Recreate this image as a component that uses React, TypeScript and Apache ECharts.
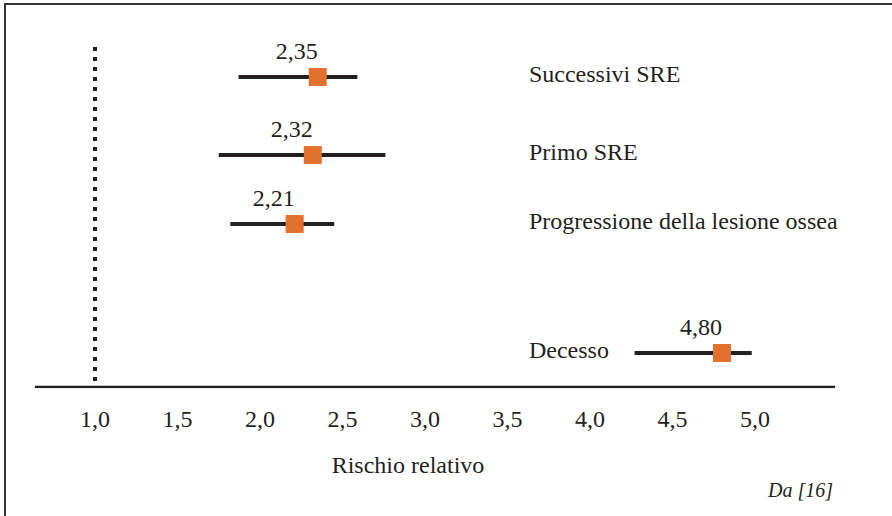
import React, { useEffect, useRef } from "react";
import * as echarts from "echarts";

// ---- data ----
const categories = ["Successivi SRE", "Primo SRE", "Progressione della lesione ossea", "Decesso"];
const estimates = [2.35, 2.32, 2.21, 4.8];
const lowerCI = [1.87, 1.75, 1.82, 4.27];
const upperCI = [2.59, 2.76, 2.45, 4.98];
const tickValues = [1.0, 1.5, 2.0, 2.5, 3.0, 3.5, 4.0, 4.5, 5.0];
const referenceValue = 1.0;
const axisTitle = "Rischio relativo";
const sourceNote = "Da [16]";

// ---- layout (not data) ----
const ROW_Y = [310, 232, 163, 34];
const LABEL_X = 3.63;
const AXIS_FROM = 0.636;
const AXIS_TO = 5.485;
const DOT_TOP = 340;

const FONT = "'Liberation Serif', 'Times New Roman', serif";
const INK = "#231F20";
const ORANGE = "#E2712F";
const FS = 24;

const fmt = (v: number) => v.toFixed(1).replace(".", ",");

export default function App() {
  const ref = useRef<HTMLDivElement>(null);
  useEffect(() => {
    document.body.style.margin = "0";
    if (!ref.current) return;
    const chart = echarts.init(ref.current, null, { renderer: "svg" });
    const ciData = categories.map((_, i) => [lowerCI[i], upperCI[i], ROW_Y[i]]);
    chart.setOption({
      animation: false,
      textStyle: { fontFamily: FONT, color: INK },
      grid: { left: 12.5, right: 54.5, top: 37, bottom: 129 },
      xAxis: {
        type: "value",
        min: 0.5,
        max: 5.5,
        interval: 0.5,
        axisLine: { show: false },
        axisTick: { show: false },
        splitLine: { show: false },
        axisLabel: {
          margin: 20,
          fontSize: FS,
          fontFamily: FONT,
          color: INK,
          formatter: (v: number) => (tickValues.some((t) => Math.abs(t - v) < 1e-6) ? fmt(v) : ""),
        },
        name: axisTitle,
        nameLocation: "middle",
        nameGap: 66,
        nameTextStyle: { fontSize: FS, fontFamily: FONT, color: INK, padding: [0, 34, 0, 0] },
      },
      yAxis: { type: "value", min: 0, max: 350, show: false },
      series: [
        {
          type: "line",
          data: [[AXIS_FROM, 0], [AXIS_TO, 0]],
          symbol: "none",
          lineStyle: { color: INK, width: 2.5 },
          silent: true,
        },
        {
          type: "line",
          data: [[referenceValue, DOT_TOP], [referenceValue, 2]],
          symbol: "none",
          lineStyle: { color: INK, width: 4, type: [4, 6] },
          silent: true,
        },
        {
          type: "custom",
          data: ciData,
          renderItem: (params: any, api: any) => {
            const a = api.coord([api.value(0), api.value(2)]);
            const b = api.coord([api.value(1), api.value(2)]);
            return {
              type: "line",
              shape: { x1: a[0], y1: a[1], x2: b[0], y2: b[1] },
              style: { stroke: INK, lineWidth: 4 },
            };
          },
          encode: { x: [0, 1], y: 2 },
          z: 3,
        },
        {
          type: "scatter",
          data: estimates.map((v, i) => [v, ROW_Y[i]]),
          symbol: "rect",
          symbolSize: 18,
          itemStyle: { color: ORANGE, opacity: 1 },
          z: 5,
          label: {
            show: true,
            position: "top",
            distance: 5,
            offset: [-21, 0],
            fontSize: FS,
            fontFamily: FONT,
            color: INK,
            opacity: 1,
            formatter: (p: any) => estimates[p.dataIndex].toFixed(2).replace(".", ","),
          },
        },
        {
          type: "scatter",
          data: categories.map((_, i) => [LABEL_X, ROW_Y[i]]),
          symbolSize: 0,
          itemStyle: { opacity: 1 },
          label: {
            show: true,
            position: "right",
            distance: 0,
            offset: [0, -3],
            fontSize: FS,
            fontFamily: FONT,
            color: INK,
            opacity: 1,
            formatter: (p: any) => categories[p.dataIndex],
          },
        },
      ],
      graphic: [
        {
          type: "rect",
          shape: { x: 5, y: 4, width: 1000, height: 700 },
          style: { fill: "none", stroke: "#333", lineWidth: 2 },
          silent: true,
        },
        {
          type: "text",
          x: 833,
          y: 490,
          style: {
            text: sourceNote,
            fontSize: 20,
            fontStyle: "italic",
            fontFamily: FONT,
            fill: INK,
            textAlign: "right",
            textVerticalAlign: "middle",
          },
        },
      ],
    });
    return () => chart.dispose();
  }, []);
  return <div ref={ref} style={{ width: 892, height: 516 }} />;
}
